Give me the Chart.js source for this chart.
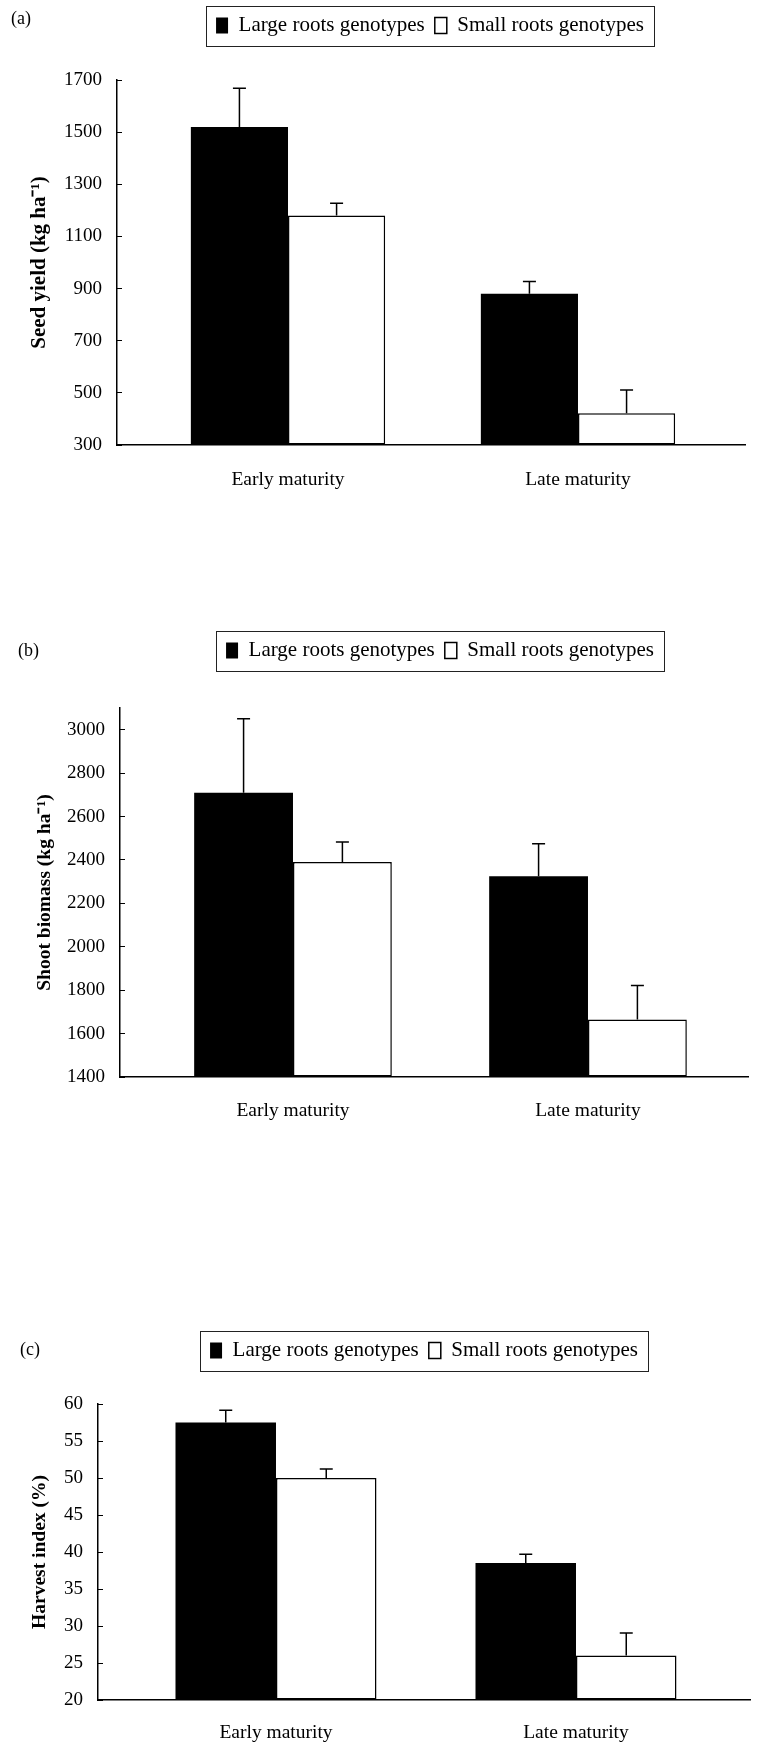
<!DOCTYPE html>
<html>
<head>
<meta charset="utf-8">
<script src="https://cdn.jsdelivr.net/npm/chart.js@4.4.1/dist/chart.umd.min.js"></script>
<style>
  body { margin: 0; background: #fff; }
  #page { position: relative; width: 759px; height: 1746px; overflow: hidden; background: #fff; }
  canvas { position: absolute; left: 0; }
  .tag { position: absolute; font: 18px "Liberation Serif", serif; color: #000; }
</style>
</head>
<body>
<div id="page">
  <canvas id="chartA" width="759" height="500" style="top:0px"></canvas>
  <canvas id="chartB" width="759" height="507" style="top:620px"></canvas>
  <canvas id="chartC" width="759" height="426" style="top:1320px"></canvas>
  <div class="tag" style="left:11px;top:8px">(a)</div>
  <div class="tag" style="left:18px;top:640px">(b)</div>
  <div class="tag" style="left:20px;top:1339px">(c)</div>
</div>
<script>
const groups = ["Early maturity", "Late maturity"];
const seriesNames = ["Large roots genotypes", "Small roots genotypes"];

// (a) seed yield
const seedLarge = [1520, 880];
const seedSmall = [1180, 422];
const seedLargeErr = [148, 47];
const seedSmallErr = [47, 89];
const seedTicks = [300, 500, 700, 900, 1100, 1300, 1500, 1700];

// (b) shoot biomass
const shootLarge = [2710, 2325];
const shootSmall = [2390, 1665];
const shootLargeErr = [340, 150];
const shootSmallErr = [93, 157];
const shootTicks = [1400, 1600, 1800, 2000, 2200, 2400, 2600, 2800, 3000];

// (c) harvest index
const hiLarge = [57.5, 38.5];
const hiSmall = [50.0, 26.0];
const hiLargeErr = [1.65, 1.2];
const hiSmallErr = [1.2, 3.05];
const hiTicks = [20, 25, 30, 35, 40, 45, 50, 55, 60];

const SERIF = "'Liberation Serif', 'Times New Roman', serif";

// error bars, legend frame and legend placement
const figurePlugin = {
  id: "figure",
  beforeLayout(chart, args, opts) {
    const lg = chart.legend;
    if (lg && !lg._fixed) {
      const fit = lg.fit;
      lg.fit = function () {
        fit.call(this);
        this.height = opts.legendHeight;
      };
      lg._fixed = true;
    }
  },
  afterLayout(chart, args, opts) {
    const lg = chart.legend;
    const dx = opts.legendCenter - (lg.left + lg.right) / 2;
    lg.left += dx;
    lg.right += dx;
  },
  afterDatasetsDraw(chart) {
    const ctx = chart.ctx;
    const y = chart.scales.y;
    ctx.save();
    ctx.strokeStyle = "#000";
    ctx.lineWidth = 1.5;
    chart.data.datasets.forEach((ds, i) => {
      chart.getDatasetMeta(i).data.forEach((bar, j) => {
        const top = y.getPixelForValue(ds.data[j].y + ds.errors[j]);
        ctx.beginPath();
        ctx.moveTo(bar.x, bar.y);
        ctx.lineTo(bar.x, top);
        ctx.moveTo(bar.x - 6.5, top);
        ctx.lineTo(bar.x + 6.5, top);
        ctx.stroke();
      });
    });
    ctx.restore();
  },
  afterDraw(chart) {
    const hb = chart.legend.legendHitBoxes;
    if (!hb || !hb.length) return;
    const ctx = chart.ctx;
    const last = hb[hb.length - 1];
    const x0 = hb[0].left - 10;
    const x1 = last.left + last.width + 10;
    const yc = hb[0].top + hb[0].height / 2;
    ctx.save();
    ctx.strokeStyle = "#222";
    ctx.lineWidth = 1;
    ctx.strokeRect(Math.round(x0) + 0.5, Math.round(yc - 20) + 0.5, Math.round(x1 - x0), 40);
    ctx.restore();
  }
};

const makePanel = (id, p) => {
  const ctx = document.getElementById(id).getContext("2d");
  const base = p.ticks[0];
  const toPoints = (vals) => vals.map((v, i) => ({ x: i, y: v }));
  return new Chart(ctx, {
    type: "bar",
    data: {
      datasets: [
        {
          label: seriesNames[0],
          data: toPoints(p.large),
          errors: p.largeErr,
          base: base,
          backgroundColor: "#000",
          borderColor: "#000",
          borderWidth: 0,
          categoryPercentage: 0.67,
          barPercentage: 1.0
        },
        {
          label: seriesNames[1],
          data: toPoints(p.small),
          errors: p.smallErr,
          base: base,
          backgroundColor: "#fff",
          borderColor: "#000",
          borderWidth: 1.5,
          borderSkipped: false,
          categoryPercentage: 0.67,
          barPercentage: 1.0
        }
      ]
    },
    options: {
      responsive: false,
      animation: false,
      devicePixelRatio: 1,
      layout: { padding: { top: p.padTop, right: p.padRight, left: 0, bottom: 0 } },
      plugins: {
        legend: {
          position: "top",
          labels: {
            font: { family: SERIF, size: 21 },
            color: "#000",
            boxWidth: 12,
            boxHeight: 16,
            padding: 10
          }
        },
        tooltip: { enabled: false },
        figure: { legendCenter: p.legendCenter, legendHeight: p.legendHeight }
      },
      scales: {
        x: {
          type: "linear",
          min: p.xMin,
          max: p.xMax,
          offset: false,
          afterBuildTicks: (s) => { s.ticks = groups.map((g, i) => ({ value: i })); },
          afterFit: (s) => { s.height = p.xHeight; },
          ticks: {
            autoSkip: false,
            maxRotation: 0,
            padding: p.xPad,
            color: "#000",
            font: { family: SERIF, size: 19.5 },
            callback: (v) => groups[v] ?? ""
          },
          grid: { display: true, drawOnChartArea: false, drawTicks: false, offset: false },
          border: { display: true, color: "#000", width: 1.5 }
        },
        y: {
          min: base,
          max: p.yMax,
          afterBuildTicks: (s) => { s.ticks = p.ticks.map((v) => ({ value: v })); },
          afterFit: (s) => { s.width = p.yWidth; },
          ticks: {
            padding: 20,
            color: "#000",
            font: { family: SERIF, size: 19 },
            callback: (v) => String(v)
          },
          grid: { drawOnChartArea: false, drawTicks: true, tickLength: -5, color: "#000", lineWidth: 1 },
          border: { display: true, color: "#000", width: 1.5 },
          title: {
            display: true,
            text: p.yTitle,
            color: "#000",
            font: { family: SERIF, size: p.titleSize, weight: "bold" },
            padding: { top: p.titlePad, bottom: 0 }
          }
        }
      }
    },
    plugins: [figurePlugin]
  });
};

makePanel("chartA", {
  large: seedLarge, small: seedSmall, largeErr: seedLargeErr, smallErr: seedSmallErr,
  ticks: seedTicks, yMax: 1700, yTitle: "Seed yield (kg ha\u207B\u00B9)",
  padTop: 5, padRight: 14, legendHeight: 75, legendCenter: 430,
  yWidth: 117, xHeight: 55, xPad: 23.6, xMin: -0.5897, xMax: 1.5759,
  titleSize: 21, titlePad: 27.4
});

makePanel("chartB", {
  large: shootLarge, small: shootSmall, largeErr: shootLargeErr, smallErr: shootSmallErr,
  ticks: shootTicks, yMax: 3100, yTitle: "Shoot biomass (kg ha\u207B\u00B9)",
  padTop: 10, padRight: 11, legendHeight: 78, legendCenter: 440,
  yWidth: 120, xHeight: 50, xPad: 22.3, xMin: -0.5864, xMax: 1.5424,
  titleSize: 19.5, titlePad: 33.3
});

makePanel("chartC", {
  large: hiLarge, small: hiSmall, largeErr: hiLargeErr, smallErr: hiSmallErr,
  ticks: hiTicks, yMax: 60, yTitle: "Harvest index (%)",
  padTop: 10, padRight: 9, legendHeight: 74, legendCenter: 424,
  yWidth: 98, xHeight: 46, xPad: 21.3, xMin: -0.5933, xMax: 1.58,
  titleSize: 19.5, titlePad: 28.3
});
</script>
</body>
</html>
